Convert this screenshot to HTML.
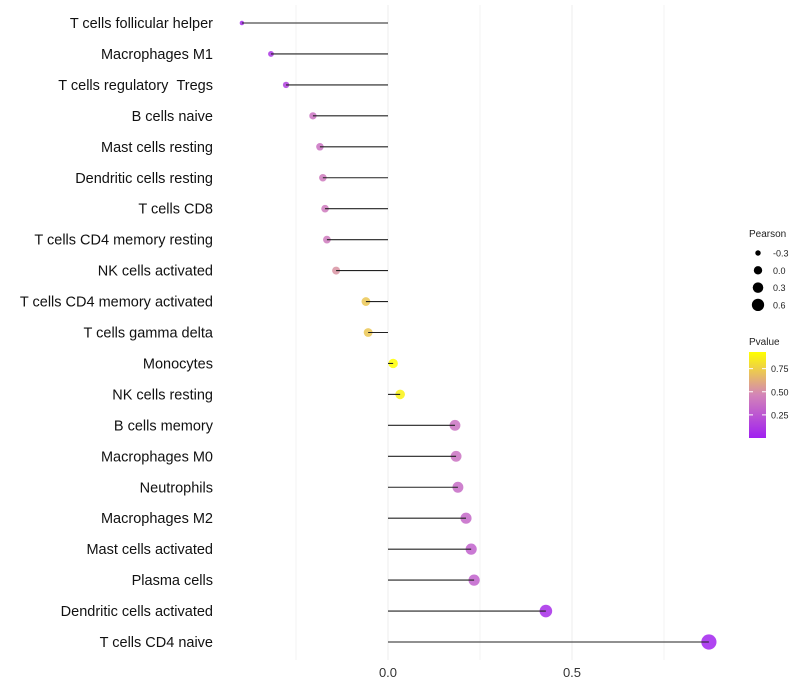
<!DOCTYPE html>
<html><head><meta charset="utf-8"><style>
body{margin:0;background:#fff;}
svg{display:block;font-family:"Liberation Sans",Arial,sans-serif;}
</style></head><body>
<svg id="chart" width="800" height="700">
<defs><linearGradient id="pg" x1="0" y1="1" x2="0" y2="0">
<stop offset="0" stop-color="#a020f0"/><stop offset="0.5" stop-color="#d384b8"/><stop offset="1" stop-color="#ffff00"/>
</linearGradient></defs>
<g id="grid"></g>
<g id="points"></g>
<g id="marks"></g>
<g id="ylabels"></g>
<g id="xlabels"></g>
<g>
<text x="749" y="237" font-size="10" fill="#222">Pearson</text>
<g id="sizeLegend"></g>
</g>
<g>
<text x="749" y="345" font-size="10" fill="#222">Pvalue</text>
<rect x="749" y="352" width="17" height="86" fill="url(#pg)"/>
<g id="colorTicks"></g>
</g>
</svg>
<script>
const categories=["T cells follicular helper","Macrophages M1","T cells regulatory \u00a0Tregs","B cells naive","Mast cells resting","Dendritic cells resting","T cells CD8","T cells CD4 memory resting","NK cells activated","T cells CD4 memory activated","T cells gamma delta","Monocytes","NK cells resting","B cells memory","Macrophages M0","Neutrophils","Macrophages M2","Mast cells activated","Plasma cells","Dendritic cells activated","T cells CD4 naive"];
const pearson=[-0.397,-0.318,-0.277,-0.204,-0.185,-0.177,-0.171,-0.166,-0.141,-0.060,-0.054,0.014,0.033,0.182,0.185,0.190,0.212,0.226,0.234,0.429,0.872];
const pvalue=[0.05,0.1,0.15,0.38,0.38,0.42,0.42,0.42,0.52,0.72,0.72,0.93,0.88,0.38,0.38,0.35,0.33,0.3,0.3,0.06,0.02];
const xTicks=[0,0.5];
const xTickLabels=["0.0","0.5"];
const sizeLegendVals=[-0.3,0,0.3,0.6];
const colorTickVals=[0.25,0.5,0.75];

const X=v=>388+v*368;
const Y=i=>23+i*30.95;
const R=v=>Math.sqrt(Math.max(2.5,20+40*v))+0.2;
const cbY=p=>438-p*(86/0.93);
function lerp(a,b,t){return a.map((x,k)=>Math.round(x+(b[k]-x)*t));}
function col(p){const t=Math.min(1,Math.max(0,p/0.93));const A=[160,32,240],M=[211,132,184],B=[255,255,0];
const c=t<0.5?lerp(A,M,t*2):lerp(M,B,(t-0.5)*2);return `rgb(${c})`;}
const NS="http://www.w3.org/2000/svg";
function mk(tag,attrs,parent){const e=document.createElementNS(NS,tag);for(const k in attrs)e.setAttribute(k,attrs[k]);parent.appendChild(e);return e;}
const grid=document.getElementById('grid'),marks=document.getElementById('marks'),pts=document.getElementById('points'),yl=document.getElementById('ylabels'),xl=document.getElementById('xlabels');
[-0.25,0,0.25,0.5,0.75].forEach(v=>{const l=mk('line',{x1:X(v),x2:X(v),y1:5,y2:660,stroke:'#f3f3f3','stroke-width':Number.isInteger(v*2)?1.6:1},grid);

});
categories.forEach((c,i)=>{
const y=Y(i);
const pt=mk('circle',{cx:X(pearson[i]),cy:y,r:R(pearson[i]),fill:col(pvalue[i]),'fill-opacity':0.85},pts);


const seg=mk('line',{x1:X(0),x2:X(pearson[i]),y1:y,y2:y,stroke:'#222','stroke-width':1.1},marks);


const t=mk('text',{x:213,y:y+5,'text-anchor':'end','font-size':14.5,fill:'#111'},yl);t.textContent=c;


});
xTicks.forEach((v,i)=>{const t=mk('text',{x:X(v),y:677,'text-anchor':'middle','font-size':13,fill:'#333'},xl);t.textContent=xTickLabels[i];

});
const sl=document.getElementById('sizeLegend');
sizeLegendVals.forEach((v,i)=>{const y=253+i*17.3;
const c=mk('circle',{cx:758,cy:y,r:R(v)*0.9,fill:'#000'},sl);


const t=mk('text',{x:773,y:y+3.5,'font-size':9,fill:'#222'},sl);t.textContent=v.toFixed(1);

});
const ct=document.getElementById('colorTicks');
colorTickVals.forEach(v=>{const y=cbY(v);
const l1=mk('line',{x1:749,x2:753,y1:y,y2:y,stroke:'#fff'},ct);


const l2=mk('line',{x1:762,x2:766,y1:y,y2:y,stroke:'#fff'},ct);


const t=mk('text',{x:771,y:y+3.5,'font-size':9,fill:'#222'},ct);t.textContent=v.toFixed(2);

});
</script>
</body></html>
